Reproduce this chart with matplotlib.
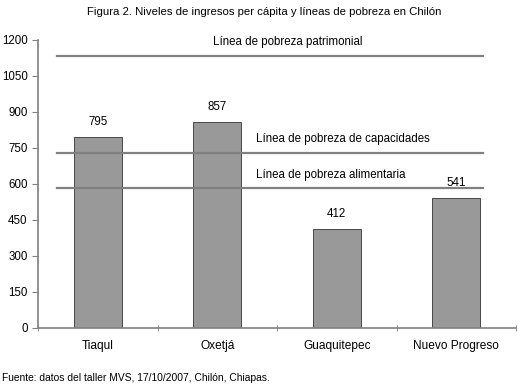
import numpy as np
import matplotlib.pyplot as plt

plt.rcParams['font.family'] = ['Liberation Sans', 'DejaVu Sans']

# datos
comunidades = ["Tiaqul", "Oxetjá", "Guaquitepec", "Nuevo Progreso"]
ingresos = [795, 857, 412, 541]
lineas = ["Línea de pobreza patrimonial", "Línea de pobreza de capacidades",
          "Línea de pobreza alimentaria"]
valores_lineas = [1133, 729, 583]

fig = plt.figure(figsize=(5.18, 3.85), dpi=100)
ax = fig.add_axes([38 / 518, 1 - 328 / 385, 478 / 518, 288 / 385])

x = np.arange(len(comunidades))
ax.bar(x, ingresos, width=0.4, color="#999999", edgecolor="#333333", linewidth=0.6)
for xi, v in zip(x, ingresos):
    ax.text(xi, v + 40, str(v), ha="center", va="bottom", fontsize=8.3)

# lineas de pobreza
for v in valores_lineas:
    ax.plot([-0.34, 3.225], [v, v], color="#808080", linewidth=1.6)
ax.text(1.59, valores_lineas[0] + 35, lineas[0], ha="center", va="bottom", fontsize=8.3)
ax.text(1.325, valores_lineas[1] + 35, lineas[1], ha="left", va="bottom", fontsize=8.3)
ax.text(1.325, valores_lineas[2] + 30, lineas[2], ha="left", va="bottom", fontsize=8.3)

ax.set_xlim(-0.5, 3.5)
ax.set_ylim(0, 1200)
ax.set_yticks(np.arange(0, 1201, 150))
ax.set_xticks(x)
ax.set_xticklabels(comunidades, fontsize=8.6)
ax.set_xticks(np.arange(-0.5, 3.6, 1), minor=True)
ax.tick_params(axis="x", which="major", length=0, pad=9)
ax.tick_params(axis="x", which="minor", length=4, direction="inout", color="#808080")
ax.tick_params(axis="y", labelsize=8.3, length=4, color="#808080")
for s in ["top", "right"]:
    ax.spines[s].set_visible(False)
for s in ["left", "bottom"]:
    ax.spines[s].set_color("#808080")
    ax.spines[s].set_linewidth(1.2)

fig.text(264 / 518, 1 - 12 / 385, "Figura 2. Niveles de ingresos per cápita y líneas de pobreza en Chilón",
         ha="center", va="center", fontsize=8.2)
fig.text(2 / 518, 1 - 378 / 385, "Fuente: datos del taller MVS, 17/10/2007, Chilón, Chiapas.",
         ha="left", va="center", fontsize=7.4)

fig.savefig("out.png", dpi=100)
